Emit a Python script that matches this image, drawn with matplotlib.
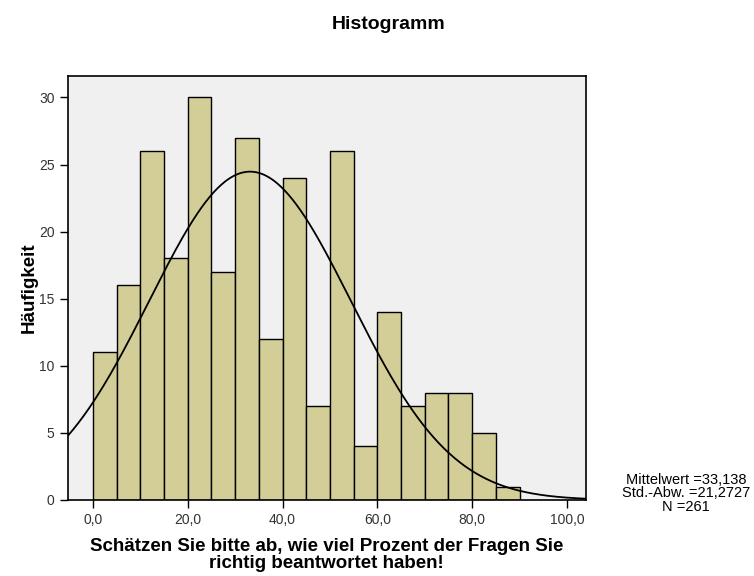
import numpy as np
import matplotlib
matplotlib.use("Agg")
import matplotlib.pyplot as plt

plt.rcParams['font.family'] = ['Liberation Sans', 'DejaVu Sans']

# bin edges (width 5) and counts
bin_left = [0, 5, 10, 15, 20, 25, 30, 35, 40, 45, 50, 55, 60, 65, 70, 75, 80, 85]
counts = [11, 16, 26, 18, 30, 17, 27, 12, 24, 7, 26, 4, 14, 7, 8, 8, 5, 1]
bin_width = 5
mean = 33.138
sd = 21.2727
n = 261

x_ticks = [0, 20, 40, 60, 80, 100]
x_tick_labels = ['0,0', '20,0', '40,0', '60,0', '80,0', '100,0']
y_ticks = [0, 5, 10, 15, 20, 25, 30]

fig = plt.figure(figsize=(7.54, 5.76), dpi=100)
ax = fig.add_axes([0.090, 0.132, 0.687, 0.736])
ax.set_facecolor('#f0f0f0')

ax.bar(bin_left, counts, width=bin_width, align='edge',
       color='#d3ce97', edgecolor='black', linewidth=1)

xlo, xhi = -5.3, 104.0
xs = np.linspace(xlo, xhi, 400)
ys = n * bin_width / (sd * np.sqrt(2 * np.pi)) * np.exp(-0.5 * ((xs - mean) / sd) ** 2)
ax.plot(xs, ys, color='black', linewidth=1.3)

ax.set_xlim(xlo, xhi)
ax.set_ylim(0, 31.6)
ax.set_xticks(x_ticks)
ax.set_xticklabels(x_tick_labels)
ax.set_yticks(y_ticks)
ax.tick_params(direction='out', length=6, width=1, labelsize=10, colors='black',
               labelcolor='#333333')
for s in ax.spines.values():
    s.set_linewidth(1.2)

ax.set_xlabel('Schätzen Sie bitte ab, wie viel Prozent der Fragen Sie\nrichtig beantwortet haben!',
              fontsize=13.5, fontweight='bold', linespacing=0.95, labelpad=8)
ax.set_ylabel('Häufigkeit', fontsize=13.5, fontweight='bold', labelpad=1)

fig.text(0.515, 0.957, 'Histogramm', fontsize=14, fontweight='bold', ha='center', va='center')
fig.text(0.910, 0.144, 'Mittelwert =33,138\nStd.-Abw. =21,2727\nN =261',
         fontsize=10.5, ha='center', va='center', linespacing=0.95)

fig.savefig('out.png', dpi=100)
